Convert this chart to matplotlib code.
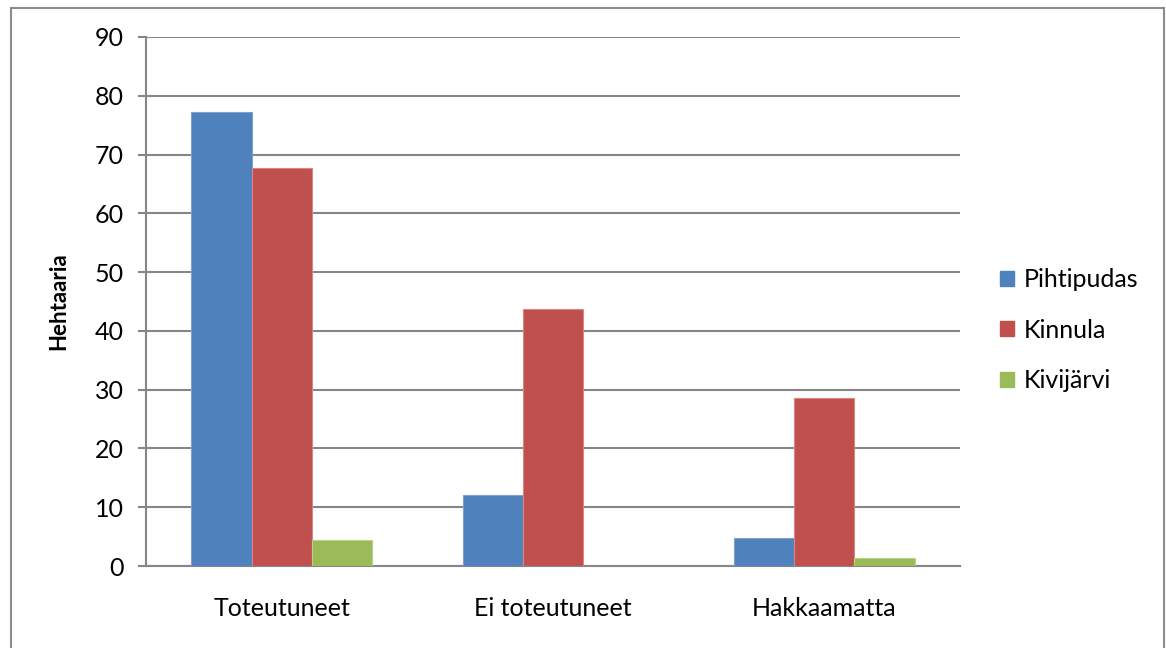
import matplotlib
matplotlib.use("Agg")
import matplotlib.pyplot as plt
from matplotlib.patches import Rectangle, Patch
import numpy as np

categories = ["Toteutuneet", "Ei toteutuneet", "Hakkaamatta"]
series_names = ["Pihtipudas", "Kinnula", "Kivijärvi"]
pihtipudas = [77.3, 12.0, 4.7]
kinnula = [67.7, 43.7, 28.5]
kivijarvi = [4.4, 0.0, 1.4]
y_ticks = [0, 10, 20, 30, 40, 50, 60, 70, 80, 90]
y_label = "Hehtaaria"

colors = ["#4F81BD", "#C0504D", "#9BBB59"]
edge_colors = ["#7FA1D0", "#D98684", "#B9D08A"]

plt.rcParams["font.family"] = ["Lato", "DejaVu Sans"]

W, H = 1166, 648
fig = plt.figure(figsize=(W / 100, H / 100), dpi=100)
fig.patch.set_facecolor("white")

# outer chart frame
fig.add_artist(Rectangle((10.5 / W, -0.1), (1163.5 - 10.5) / W, 1.1 - 7.5 / H,
                         transform=fig.transFigure, fill=False,
                         edgecolor="#8C8C8C", linewidth=1.5))

ax = fig.add_axes([146 / W, 1 - 566 / H, (960 - 146) / W, (566 - 37) / H])

x = np.arange(len(categories))
bw = 1 / 4.5
data = [pihtipudas, kinnula, kivijarvi]
for i, (vals, c, ec) in enumerate(zip(data, colors, edge_colors)):
    ax.bar(x + (i - 1) * bw, vals, width=bw, color=c, edgecolor=ec,
           linewidth=0.8, label=series_names[i], zorder=3)

ax.set_xlim(-0.5, len(categories) - 0.5)
ax.set_ylim(0, 90)
ax.set_yticks(y_ticks)
ax.set_yticklabels([str(t) for t in y_ticks], fontsize=18)
ax.set_xticks(x)
ax.set_xticklabels(categories, fontsize=18)
ax.tick_params(axis="x", length=0, pad=22)
ax.tick_params(axis="y", length=6, width=1.5, color="#868686", pad=10)

ax.grid(axis="y", color="#868686", linewidth=1.5, zorder=0)
for s in ["top", "right"]:
    ax.spines[s].set_visible(False)
for s in ["left", "bottom"]:
    ax.spines[s].set_color("#868686")
    ax.spines[s].set_linewidth(1.5)

ax.set_ylabel(y_label, fontsize=16, fontweight="bold", labelpad=18)

handles = [Patch(facecolor=c, edgecolor=c) for c in colors]
fig.legend(handles, series_names, loc="center left",
           bbox_to_anchor=(990 / W, 1 - 330 / H), frameon=False,
           fontsize=18, handlelength=0.55, handleheight=0.55,
           handletextpad=0.4, labelspacing=1.1, borderaxespad=0)

fig.savefig("out.png", dpi=100, facecolor="white")
